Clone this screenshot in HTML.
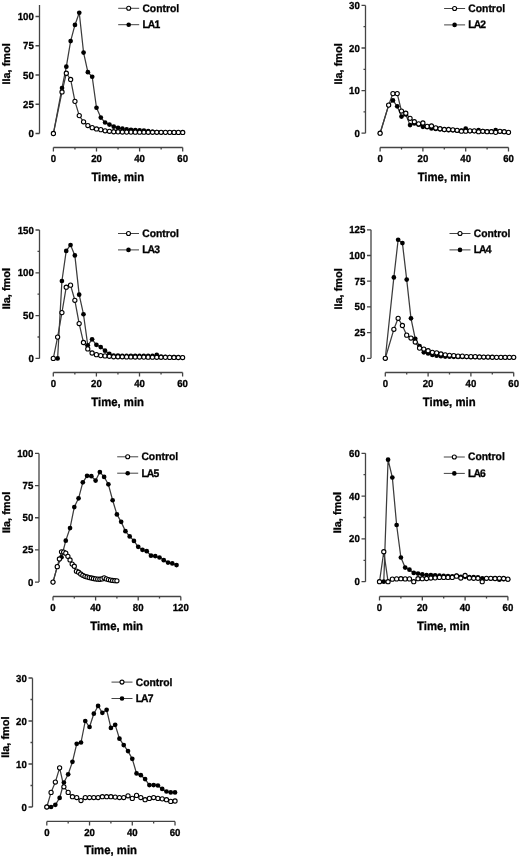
<!DOCTYPE html>
<html><head><meta charset="utf-8"><title>IIa generation curves</title>
<style>
html,body{margin:0;padding:0;background:#fff;}
body{width:520px;height:857px;overflow:hidden;}
svg{display:block;filter:grayscale(1) blur(0.3px);}
text{font-family:"Liberation Sans",sans-serif;font-weight:bold;fill:#000;stroke:#000;stroke-width:0.3px;text-rendering:geometricPrecision;}
.tk{font-size:9.65px;}
.lt{font-size:10.35px;}
.la{letter-spacing:-0.9px;}
.xl{font-size:11.35px;}
.yl{font-size:10.95px;}
.ax{fill:none;stroke:#444;stroke-width:1.3;}
.lg{fill:none;stroke:#444;stroke-width:1;}
.dl{fill:none;stroke:#3c3c3c;stroke-width:1.25;stroke-linejoin:round;}
.fc{fill:#000;stroke:none;}
.oc{fill:#fff;stroke:#000;stroke-width:1.1;}
</style></head>
<body><svg width="520" height="857" viewBox="0 0 520 857">
<g>
<path class="ax" d="M39.5 5V133.5M35.5 133.5H39.5M35.5 104.25H39.5M35.5 75H39.5M35.5 45.75H39.5M35.5 16.5H39.5M53.4 147.5H182.7M53.4 147.5V151.5M96.5 147.5V151.5M139.6 147.5V151.5M182.7 147.5V151.5M74.95 147.5V149.5M118.05 147.5V149.5M161.15 147.5V149.5"/>
<text class="tk" transform="translate(33.8 137) scale(1 1.06)" text-anchor="end">0</text>
<text class="tk" transform="translate(33.8 107.75) scale(1 1.06)" text-anchor="end">25</text>
<text class="tk" transform="translate(33.8 78.5) scale(1 1.06)" text-anchor="end">50</text>
<text class="tk" transform="translate(33.8 49.25) scale(1 1.06)" text-anchor="end">75</text>
<text class="tk" transform="translate(33.8 20) scale(1 1.06)" text-anchor="end">100</text>
<text class="tk" transform="translate(53.4 162.1) scale(1 1.06)" text-anchor="middle">0</text>
<text class="tk" transform="translate(96.5 162.1) scale(1 1.06)" text-anchor="middle">20</text>
<text class="tk" transform="translate(139.6 162.1) scale(1 1.06)" text-anchor="middle">40</text>
<text class="tk" transform="translate(182.7 162.1) scale(1 1.06)" text-anchor="middle">60</text>
<text class="xl" transform="translate(117.75 180.5) scale(1 1.06)" text-anchor="middle">Time, min</text>
<text class="yl" transform="translate(9.7 63.9) rotate(-90)" text-anchor="middle">IIa, fmol</text>
<polyline class="dl" points="53.4,133.5 62.02,87.99 66.33,66.69 70.64,41.07 74.95,24.92 79.26,12.76 83.57,52.54 87.88,72.19 92.19,76.75 96.5,107.76 100.81,117.59 105.12,122.5 109.43,124.61 113.74,126.71 118.05,127.88 122.36,128.7 126.67,129.41 130.98,129.76 135.29,129.99 139.6,130.34 143.91,130.69 148.22,131.16 152.53,131.75 156.84,132.1 161.15,132.33 165.46,132.33 169.77,132.45 174.08,132.45 178.39,132.45 182.7,132.56"/>
<polyline class="dl" points="53.4,133.5 62.02,91.97 66.33,73.25 70.64,79.45 74.95,101.33 79.26,115.6 83.57,121.8 87.88,125.54 92.19,127.65 96.5,128.94 100.81,129.64 105.12,130.81 109.43,131.28 113.74,131.75 118.05,131.86 122.36,131.98 126.67,132.1 130.98,132.12 135.29,132.15 139.6,132.18 143.91,132.2 148.22,132.23 152.53,132.26 156.84,132.28 161.15,132.31 165.46,132.34 169.77,132.37 174.08,132.39 178.39,132.42 182.7,132.45"/>
<circle class="fc" cx="53.4" cy="133.5" r="2.35"/>
<circle class="fc" cx="62.02" cy="87.99" r="2.35"/>
<circle class="fc" cx="66.33" cy="66.69" r="2.35"/>
<circle class="fc" cx="70.64" cy="41.07" r="2.35"/>
<circle class="fc" cx="74.95" cy="24.92" r="2.35"/>
<circle class="fc" cx="79.26" cy="12.76" r="2.35"/>
<circle class="fc" cx="83.57" cy="52.54" r="2.35"/>
<circle class="fc" cx="87.88" cy="72.19" r="2.35"/>
<circle class="fc" cx="92.19" cy="76.75" r="2.35"/>
<circle class="fc" cx="96.5" cy="107.76" r="2.35"/>
<circle class="fc" cx="100.81" cy="117.59" r="2.35"/>
<circle class="fc" cx="105.12" cy="122.5" r="2.35"/>
<circle class="fc" cx="109.43" cy="124.61" r="2.35"/>
<circle class="fc" cx="113.74" cy="126.71" r="2.35"/>
<circle class="fc" cx="118.05" cy="127.88" r="2.35"/>
<circle class="fc" cx="122.36" cy="128.7" r="2.35"/>
<circle class="fc" cx="126.67" cy="129.41" r="2.35"/>
<circle class="fc" cx="130.98" cy="129.76" r="2.35"/>
<circle class="fc" cx="135.29" cy="129.99" r="2.35"/>
<circle class="fc" cx="139.6" cy="130.34" r="2.35"/>
<circle class="fc" cx="143.91" cy="130.69" r="2.35"/>
<circle class="fc" cx="148.22" cy="131.16" r="2.35"/>
<circle class="fc" cx="152.53" cy="131.75" r="2.35"/>
<circle class="fc" cx="156.84" cy="132.1" r="2.35"/>
<circle class="fc" cx="161.15" cy="132.33" r="2.35"/>
<circle class="fc" cx="165.46" cy="132.33" r="2.35"/>
<circle class="fc" cx="169.77" cy="132.45" r="2.35"/>
<circle class="fc" cx="174.08" cy="132.45" r="2.35"/>
<circle class="fc" cx="178.39" cy="132.45" r="2.35"/>
<circle class="fc" cx="182.7" cy="132.56" r="2.35"/>
<circle class="oc" cx="53.4" cy="133.5" r="2.1"/>
<circle class="oc" cx="62.02" cy="91.97" r="2.1"/>
<circle class="oc" cx="66.33" cy="73.25" r="2.1"/>
<circle class="oc" cx="70.64" cy="79.45" r="2.1"/>
<circle class="oc" cx="74.95" cy="101.33" r="2.1"/>
<circle class="oc" cx="79.26" cy="115.6" r="2.1"/>
<circle class="oc" cx="83.57" cy="121.8" r="2.1"/>
<circle class="oc" cx="87.88" cy="125.54" r="2.1"/>
<circle class="oc" cx="92.19" cy="127.65" r="2.1"/>
<circle class="oc" cx="96.5" cy="128.94" r="2.1"/>
<circle class="oc" cx="100.81" cy="129.64" r="2.1"/>
<circle class="oc" cx="105.12" cy="130.81" r="2.1"/>
<circle class="oc" cx="109.43" cy="131.28" r="2.1"/>
<circle class="oc" cx="113.74" cy="131.75" r="2.1"/>
<circle class="oc" cx="118.05" cy="131.86" r="2.1"/>
<circle class="oc" cx="122.36" cy="131.98" r="2.1"/>
<circle class="oc" cx="126.67" cy="132.1" r="2.1"/>
<circle class="oc" cx="130.98" cy="132.12" r="2.1"/>
<circle class="oc" cx="135.29" cy="132.15" r="2.1"/>
<circle class="oc" cx="139.6" cy="132.18" r="2.1"/>
<circle class="oc" cx="143.91" cy="132.2" r="2.1"/>
<circle class="oc" cx="148.22" cy="132.23" r="2.1"/>
<circle class="oc" cx="152.53" cy="132.26" r="2.1"/>
<circle class="oc" cx="156.84" cy="132.28" r="2.1"/>
<circle class="oc" cx="161.15" cy="132.31" r="2.1"/>
<circle class="oc" cx="165.46" cy="132.34" r="2.1"/>
<circle class="oc" cx="169.77" cy="132.37" r="2.1"/>
<circle class="oc" cx="174.08" cy="132.39" r="2.1"/>
<circle class="oc" cx="178.39" cy="132.42" r="2.1"/>
<circle class="oc" cx="182.7" cy="132.45" r="2.1"/>
<path class="lg" d="M118.2 8.3H139.2"/>
<circle class="oc" cx="128.7" cy="8.3" r="2"/>
<text class="lt" transform="translate(142.4 11.7) scale(1 1.05)">Control</text>
<path class="lg" d="M118.2 24.7H139.2"/>
<circle class="fc" cx="128.7" cy="24.7" r="2.3"/>
<text class="lt la" transform="translate(142.4 28.1) scale(1 1.05)">LA1</text>
</g>
<g>
<path class="ax" d="M365.5 5.4V133.2M361.5 133.2H365.5M361.5 90.6H365.5M361.5 48H365.5M361.5 5.4H365.5M363.5 111.9H365.5M363.5 69.3H365.5M363.5 26.7H365.5M380.1 147.5H508.5M380.1 147.5V151.5M422.9 147.5V151.5M465.7 147.5V151.5M508.5 147.5V151.5M401.5 147.5V149.5M444.3 147.5V149.5M487.1 147.5V149.5"/>
<text class="tk" transform="translate(359.8 136.7) scale(1 1.06)" text-anchor="end">0</text>
<text class="tk" transform="translate(359.8 94.1) scale(1 1.06)" text-anchor="end">10</text>
<text class="tk" transform="translate(359.8 51.5) scale(1 1.06)" text-anchor="end">20</text>
<text class="tk" transform="translate(359.8 8.9) scale(1 1.06)" text-anchor="end">30</text>
<text class="tk" transform="translate(380.1 162.1) scale(1 1.06)" text-anchor="middle">0</text>
<text class="tk" transform="translate(422.9 162.1) scale(1 1.06)" text-anchor="middle">20</text>
<text class="tk" transform="translate(465.7 162.1) scale(1 1.06)" text-anchor="middle">40</text>
<text class="tk" transform="translate(508.5 162.1) scale(1 1.06)" text-anchor="middle">60</text>
<text class="xl" transform="translate(444 180.5) scale(1 1.06)" text-anchor="middle">Time, min</text>
<text class="yl" transform="translate(341.8 63.9) rotate(-90)" text-anchor="middle">IIa, fmol</text>
<polyline class="dl" points="380.1,133.2 388.66,105.08 392.94,100.4 397.22,106.36 401.5,116.59 405.78,114.46 410.06,125.11 414.34,123.4 418.62,124.68 422.9,126.81 427.18,127.24 431.46,128.51 435.74,128.94 440.02,129.37 444.3,129.79 448.58,130.22 452.86,130.22 457.14,130.64 461.42,130.64 465.7,128.51 469.98,131.07 474.26,131.07 478.54,130.22 482.82,131.07 487.1,131.5 491.38,131.5 495.66,130.22 499.94,131.5 504.22,131.92 508.5,132.35"/>
<polyline class="dl" points="380.1,133.2 388.66,105.08 392.94,93.58 397.22,93.58 401.5,111.05 405.78,113.18 410.06,118.29 414.34,121.7 418.62,123.83 422.9,122.98 427.18,126.38 431.46,125.96 435.74,127.92 440.02,128.68 444.3,129.49 448.58,129.49 452.86,129.79 457.14,130.3 461.42,131.2 465.7,131.2 469.98,130.86 474.26,130.86 478.54,131.71 482.82,131.28 487.1,131.71 491.38,131.71 495.66,132.35 499.94,131.28 504.22,131.71 508.5,132.35"/>
<circle class="fc" cx="380.1" cy="133.2" r="2.35"/>
<circle class="fc" cx="388.66" cy="105.08" r="2.35"/>
<circle class="fc" cx="392.94" cy="100.4" r="2.35"/>
<circle class="fc" cx="397.22" cy="106.36" r="2.35"/>
<circle class="fc" cx="401.5" cy="116.59" r="2.35"/>
<circle class="fc" cx="405.78" cy="114.46" r="2.35"/>
<circle class="fc" cx="410.06" cy="125.11" r="2.35"/>
<circle class="fc" cx="414.34" cy="123.4" r="2.35"/>
<circle class="fc" cx="418.62" cy="124.68" r="2.35"/>
<circle class="fc" cx="422.9" cy="126.81" r="2.35"/>
<circle class="fc" cx="427.18" cy="127.24" r="2.35"/>
<circle class="fc" cx="431.46" cy="128.51" r="2.35"/>
<circle class="fc" cx="435.74" cy="128.94" r="2.35"/>
<circle class="fc" cx="440.02" cy="129.37" r="2.35"/>
<circle class="fc" cx="444.3" cy="129.79" r="2.35"/>
<circle class="fc" cx="448.58" cy="130.22" r="2.35"/>
<circle class="fc" cx="452.86" cy="130.22" r="2.35"/>
<circle class="fc" cx="457.14" cy="130.64" r="2.35"/>
<circle class="fc" cx="461.42" cy="130.64" r="2.35"/>
<circle class="fc" cx="465.7" cy="128.51" r="2.35"/>
<circle class="fc" cx="469.98" cy="131.07" r="2.35"/>
<circle class="fc" cx="474.26" cy="131.07" r="2.35"/>
<circle class="fc" cx="478.54" cy="130.22" r="2.35"/>
<circle class="fc" cx="482.82" cy="131.07" r="2.35"/>
<circle class="fc" cx="487.1" cy="131.5" r="2.35"/>
<circle class="fc" cx="491.38" cy="131.5" r="2.35"/>
<circle class="fc" cx="495.66" cy="130.22" r="2.35"/>
<circle class="fc" cx="499.94" cy="131.5" r="2.35"/>
<circle class="fc" cx="504.22" cy="131.92" r="2.35"/>
<circle class="fc" cx="508.5" cy="132.35" r="2.35"/>
<circle class="oc" cx="380.1" cy="133.2" r="2.1"/>
<circle class="oc" cx="388.66" cy="105.08" r="2.1"/>
<circle class="oc" cx="392.94" cy="93.58" r="2.1"/>
<circle class="oc" cx="397.22" cy="93.58" r="2.1"/>
<circle class="oc" cx="401.5" cy="111.05" r="2.1"/>
<circle class="oc" cx="405.78" cy="113.18" r="2.1"/>
<circle class="oc" cx="410.06" cy="118.29" r="2.1"/>
<circle class="oc" cx="414.34" cy="121.7" r="2.1"/>
<circle class="oc" cx="418.62" cy="123.83" r="2.1"/>
<circle class="oc" cx="422.9" cy="122.98" r="2.1"/>
<circle class="oc" cx="427.18" cy="126.38" r="2.1"/>
<circle class="oc" cx="431.46" cy="125.96" r="2.1"/>
<circle class="oc" cx="435.74" cy="127.92" r="2.1"/>
<circle class="oc" cx="440.02" cy="128.68" r="2.1"/>
<circle class="oc" cx="444.3" cy="129.49" r="2.1"/>
<circle class="oc" cx="448.58" cy="129.49" r="2.1"/>
<circle class="oc" cx="452.86" cy="129.79" r="2.1"/>
<circle class="oc" cx="457.14" cy="130.3" r="2.1"/>
<circle class="oc" cx="461.42" cy="131.2" r="2.1"/>
<circle class="oc" cx="465.7" cy="131.2" r="2.1"/>
<circle class="oc" cx="469.98" cy="130.86" r="2.1"/>
<circle class="oc" cx="474.26" cy="130.86" r="2.1"/>
<circle class="oc" cx="478.54" cy="131.71" r="2.1"/>
<circle class="oc" cx="482.82" cy="131.28" r="2.1"/>
<circle class="oc" cx="487.1" cy="131.71" r="2.1"/>
<circle class="oc" cx="491.38" cy="131.71" r="2.1"/>
<circle class="oc" cx="495.66" cy="132.35" r="2.1"/>
<circle class="oc" cx="499.94" cy="131.28" r="2.1"/>
<circle class="oc" cx="504.22" cy="131.71" r="2.1"/>
<circle class="oc" cx="508.5" cy="132.35" r="2.1"/>
<path class="lg" d="M444.1 8.5H465.1"/>
<circle class="oc" cx="454.6" cy="8.5" r="2"/>
<text class="lt" transform="translate(468.3 11.9) scale(1 1.05)">Control</text>
<path class="lg" d="M444.1 24.9H465.1"/>
<circle class="fc" cx="454.6" cy="24.9" r="2.3"/>
<text class="lt la" transform="translate(468.3 28.3) scale(1 1.05)">LA2</text>
</g>
<g>
<path class="ax" d="M39.5 230V358.4M35.5 358.4H39.5M35.5 315.6H39.5M35.5 272.8H39.5M35.5 230H39.5M37.5 337H39.5M37.5 294.2H39.5M37.5 251.4H39.5M53.3 372.5H182.6M53.3 372.5V376.5M96.4 372.5V376.5M139.5 372.5V376.5M182.6 372.5V376.5M74.85 372.5V374.5M117.95 372.5V374.5M161.05 372.5V374.5"/>
<text class="tk" transform="translate(33.8 361.9) scale(1 1.06)" text-anchor="end">0</text>
<text class="tk" transform="translate(33.8 319.1) scale(1 1.06)" text-anchor="end">50</text>
<text class="tk" transform="translate(33.8 276.3) scale(1 1.06)" text-anchor="end">100</text>
<text class="tk" transform="translate(33.8 233.5) scale(1 1.06)" text-anchor="end">150</text>
<text class="tk" transform="translate(53.3 387.1) scale(1 1.06)" text-anchor="middle">0</text>
<text class="tk" transform="translate(96.4 387.1) scale(1 1.06)" text-anchor="middle">20</text>
<text class="tk" transform="translate(139.5 387.1) scale(1 1.06)" text-anchor="middle">40</text>
<text class="tk" transform="translate(182.6 387.1) scale(1 1.06)" text-anchor="middle">60</text>
<text class="xl" transform="translate(117.65 405.5) scale(1 1.06)" text-anchor="middle">Time, min</text>
<text class="yl" transform="translate(9.5 288.7) rotate(-90)" text-anchor="middle">IIa, fmol</text>
<polyline class="dl" points="57.61,358.4 61.92,281.02 66.23,250.89 70.54,244.98 74.85,255.42 79.16,294.63 83.47,314.23 87.78,345.3 92.09,339.31 96.4,344.79 100.71,347.1 105.02,350.7 109.33,353.78 113.64,355.58 117.95,355.66 122.26,355.75 126.57,355.75 130.88,355.83 135.19,355.83 139.5,355.83 143.81,355.92 148.12,355.92 152.43,355.92 156.74,354.89 161.05,356.52 165.36,356.86 169.67,357.03 173.98,357.2 178.29,357.37 182.6,357.54"/>
<polyline class="dl" points="53.3,358.4 57.61,337.09 61.92,312.6 66.23,287.18 70.54,285.13 74.85,300.28 79.16,323.56 83.47,342.48 87.78,348.9 92.09,353.01 96.4,354.63 100.71,355.58 105.02,355.92 109.33,356.26 113.64,356.77 117.95,356.77 122.26,356.82 126.57,356.88 130.88,356.93 135.19,356.98 139.5,357.03 143.81,357.08 148.12,357.13 152.43,357.18 156.74,357.24 161.05,357.29 165.36,357.34 169.67,357.39 173.98,357.44 178.29,357.49 182.6,357.54"/>
<circle class="fc" cx="57.61" cy="358.4" r="2.35"/>
<circle class="fc" cx="61.92" cy="281.02" r="2.35"/>
<circle class="fc" cx="66.23" cy="250.89" r="2.35"/>
<circle class="fc" cx="70.54" cy="244.98" r="2.35"/>
<circle class="fc" cx="74.85" cy="255.42" r="2.35"/>
<circle class="fc" cx="79.16" cy="294.63" r="2.35"/>
<circle class="fc" cx="83.47" cy="314.23" r="2.35"/>
<circle class="fc" cx="87.78" cy="345.3" r="2.35"/>
<circle class="fc" cx="92.09" cy="339.31" r="2.35"/>
<circle class="fc" cx="96.4" cy="344.79" r="2.35"/>
<circle class="fc" cx="100.71" cy="347.1" r="2.35"/>
<circle class="fc" cx="105.02" cy="350.7" r="2.35"/>
<circle class="fc" cx="109.33" cy="353.78" r="2.35"/>
<circle class="fc" cx="113.64" cy="355.58" r="2.35"/>
<circle class="fc" cx="117.95" cy="355.66" r="2.35"/>
<circle class="fc" cx="122.26" cy="355.75" r="2.35"/>
<circle class="fc" cx="126.57" cy="355.75" r="2.35"/>
<circle class="fc" cx="130.88" cy="355.83" r="2.35"/>
<circle class="fc" cx="135.19" cy="355.83" r="2.35"/>
<circle class="fc" cx="139.5" cy="355.83" r="2.35"/>
<circle class="fc" cx="143.81" cy="355.92" r="2.35"/>
<circle class="fc" cx="148.12" cy="355.92" r="2.35"/>
<circle class="fc" cx="152.43" cy="355.92" r="2.35"/>
<circle class="fc" cx="156.74" cy="354.89" r="2.35"/>
<circle class="fc" cx="161.05" cy="356.52" r="2.35"/>
<circle class="fc" cx="165.36" cy="356.86" r="2.35"/>
<circle class="fc" cx="169.67" cy="357.03" r="2.35"/>
<circle class="fc" cx="173.98" cy="357.2" r="2.35"/>
<circle class="fc" cx="178.29" cy="357.37" r="2.35"/>
<circle class="fc" cx="182.6" cy="357.54" r="2.35"/>
<circle class="oc" cx="53.3" cy="358.4" r="2.1"/>
<circle class="oc" cx="57.61" cy="337.09" r="2.1"/>
<circle class="oc" cx="61.92" cy="312.6" r="2.1"/>
<circle class="oc" cx="66.23" cy="287.18" r="2.1"/>
<circle class="oc" cx="70.54" cy="285.13" r="2.1"/>
<circle class="oc" cx="74.85" cy="300.28" r="2.1"/>
<circle class="oc" cx="79.16" cy="323.56" r="2.1"/>
<circle class="oc" cx="83.47" cy="342.48" r="2.1"/>
<circle class="oc" cx="87.78" cy="348.9" r="2.1"/>
<circle class="oc" cx="92.09" cy="353.01" r="2.1"/>
<circle class="oc" cx="96.4" cy="354.63" r="2.1"/>
<circle class="oc" cx="100.71" cy="355.58" r="2.1"/>
<circle class="oc" cx="105.02" cy="355.92" r="2.1"/>
<circle class="oc" cx="109.33" cy="356.26" r="2.1"/>
<circle class="oc" cx="113.64" cy="356.77" r="2.1"/>
<circle class="oc" cx="117.95" cy="356.77" r="2.1"/>
<circle class="oc" cx="122.26" cy="356.82" r="2.1"/>
<circle class="oc" cx="126.57" cy="356.88" r="2.1"/>
<circle class="oc" cx="130.88" cy="356.93" r="2.1"/>
<circle class="oc" cx="135.19" cy="356.98" r="2.1"/>
<circle class="oc" cx="139.5" cy="357.03" r="2.1"/>
<circle class="oc" cx="143.81" cy="357.08" r="2.1"/>
<circle class="oc" cx="148.12" cy="357.13" r="2.1"/>
<circle class="oc" cx="152.43" cy="357.18" r="2.1"/>
<circle class="oc" cx="156.74" cy="357.24" r="2.1"/>
<circle class="oc" cx="161.05" cy="357.29" r="2.1"/>
<circle class="oc" cx="165.36" cy="357.34" r="2.1"/>
<circle class="oc" cx="169.67" cy="357.39" r="2.1"/>
<circle class="oc" cx="173.98" cy="357.44" r="2.1"/>
<circle class="oc" cx="178.29" cy="357.49" r="2.1"/>
<circle class="oc" cx="182.6" cy="357.54" r="2.1"/>
<path class="lg" d="M118 233.5H139"/>
<circle class="oc" cx="128.5" cy="233.5" r="2"/>
<text class="lt" transform="translate(142.2 236.9) scale(1 1.05)">Control</text>
<path class="lg" d="M118 249.9H139"/>
<circle class="fc" cx="128.5" cy="249.9" r="2.3"/>
<text class="lt la" transform="translate(142.2 253.3) scale(1 1.05)">LA3</text>
</g>
<g>
<path class="ax" d="M371 229.8V358.3M367 358.3H371M367 332.6H371M367 306.9H371M367 281.2H371M367 255.5H371M367 229.8H371M385.3 372.5H513.7M385.3 372.5V376.5M428.1 372.5V376.5M470.9 372.5V376.5M513.7 372.5V376.5M406.7 372.5V374.5M449.5 372.5V374.5M492.3 372.5V374.5"/>
<text class="tk" transform="translate(365.3 361.8) scale(1 1.06)" text-anchor="end">0</text>
<text class="tk" transform="translate(365.3 336.1) scale(1 1.06)" text-anchor="end">25</text>
<text class="tk" transform="translate(365.3 310.4) scale(1 1.06)" text-anchor="end">50</text>
<text class="tk" transform="translate(365.3 284.7) scale(1 1.06)" text-anchor="end">75</text>
<text class="tk" transform="translate(365.3 259) scale(1 1.06)" text-anchor="end">100</text>
<text class="tk" transform="translate(365.3 233.3) scale(1 1.06)" text-anchor="end">125</text>
<text class="tk" transform="translate(385.3 387.1) scale(1 1.06)" text-anchor="middle">0</text>
<text class="tk" transform="translate(428.1 387.1) scale(1 1.06)" text-anchor="middle">20</text>
<text class="tk" transform="translate(470.9 387.1) scale(1 1.06)" text-anchor="middle">40</text>
<text class="tk" transform="translate(513.7 387.1) scale(1 1.06)" text-anchor="middle">60</text>
<text class="xl" transform="translate(449.2 405.5) scale(1 1.06)" text-anchor="middle">Time, min</text>
<text class="yl" transform="translate(342.4 288.9) rotate(-90)" text-anchor="middle">IIa, fmol</text>
<polyline class="dl" points="385.3,358.3 393.86,277.4 398.14,239.77 402.42,243.06 406.7,279.56 410.98,318.31 415.26,338.77 419.54,346.07 423.82,352.34 428.1,353.47 432.38,355.01 436.66,355.73 440.94,356.24 445.22,356.55 449.5,356.76 453.78,356.86 458.06,356.9 462.34,356.95 466.62,356.99 470.9,357.04 475.18,357.08 479.46,357.13 483.74,357.17 488.02,357.21 492.3,357.26 496.58,357.3 500.86,357.35 505.14,357.39 509.42,357.43 513.7,357.48"/>
<polyline class="dl" points="385.3,358.3 393.86,329.31 398.14,318.31 402.42,325.51 406.7,335.17 410.98,338.05 415.26,342.06 419.54,348.12 423.82,349.05 428.1,350.69 432.38,352.34 436.66,352.85 440.94,353.98 445.22,354.8 449.5,355.32 453.78,355.63 458.06,356.14 462.34,356.14 466.62,356.55 470.9,356.66 475.18,356.66 479.46,356.96 483.74,357.07 488.02,357.07 492.3,357.27 496.58,357.37 500.86,357.37 505.14,357.37 509.42,357.37 513.7,357.37"/>
<circle class="fc" cx="385.3" cy="358.3" r="2.35"/>
<circle class="fc" cx="393.86" cy="277.4" r="2.35"/>
<circle class="fc" cx="398.14" cy="239.77" r="2.35"/>
<circle class="fc" cx="402.42" cy="243.06" r="2.35"/>
<circle class="fc" cx="406.7" cy="279.56" r="2.35"/>
<circle class="fc" cx="410.98" cy="318.31" r="2.35"/>
<circle class="fc" cx="415.26" cy="338.77" r="2.35"/>
<circle class="fc" cx="419.54" cy="346.07" r="2.35"/>
<circle class="fc" cx="423.82" cy="352.34" r="2.35"/>
<circle class="fc" cx="428.1" cy="353.47" r="2.35"/>
<circle class="fc" cx="432.38" cy="355.01" r="2.35"/>
<circle class="fc" cx="436.66" cy="355.73" r="2.35"/>
<circle class="fc" cx="440.94" cy="356.24" r="2.35"/>
<circle class="fc" cx="445.22" cy="356.55" r="2.35"/>
<circle class="fc" cx="449.5" cy="356.76" r="2.35"/>
<circle class="fc" cx="453.78" cy="356.86" r="2.35"/>
<circle class="fc" cx="458.06" cy="356.9" r="2.35"/>
<circle class="fc" cx="462.34" cy="356.95" r="2.35"/>
<circle class="fc" cx="466.62" cy="356.99" r="2.35"/>
<circle class="fc" cx="470.9" cy="357.04" r="2.35"/>
<circle class="fc" cx="475.18" cy="357.08" r="2.35"/>
<circle class="fc" cx="479.46" cy="357.13" r="2.35"/>
<circle class="fc" cx="483.74" cy="357.17" r="2.35"/>
<circle class="fc" cx="488.02" cy="357.21" r="2.35"/>
<circle class="fc" cx="492.3" cy="357.26" r="2.35"/>
<circle class="fc" cx="496.58" cy="357.3" r="2.35"/>
<circle class="fc" cx="500.86" cy="357.35" r="2.35"/>
<circle class="fc" cx="505.14" cy="357.39" r="2.35"/>
<circle class="fc" cx="509.42" cy="357.43" r="2.35"/>
<circle class="fc" cx="513.7" cy="357.48" r="2.35"/>
<circle class="oc" cx="385.3" cy="358.3" r="2.1"/>
<circle class="oc" cx="393.86" cy="329.31" r="2.1"/>
<circle class="oc" cx="398.14" cy="318.31" r="2.1"/>
<circle class="oc" cx="402.42" cy="325.51" r="2.1"/>
<circle class="oc" cx="406.7" cy="335.17" r="2.1"/>
<circle class="oc" cx="410.98" cy="338.05" r="2.1"/>
<circle class="oc" cx="415.26" cy="342.06" r="2.1"/>
<circle class="oc" cx="419.54" cy="348.12" r="2.1"/>
<circle class="oc" cx="423.82" cy="349.05" r="2.1"/>
<circle class="oc" cx="428.1" cy="350.69" r="2.1"/>
<circle class="oc" cx="432.38" cy="352.34" r="2.1"/>
<circle class="oc" cx="436.66" cy="352.85" r="2.1"/>
<circle class="oc" cx="440.94" cy="353.98" r="2.1"/>
<circle class="oc" cx="445.22" cy="354.8" r="2.1"/>
<circle class="oc" cx="449.5" cy="355.32" r="2.1"/>
<circle class="oc" cx="453.78" cy="355.63" r="2.1"/>
<circle class="oc" cx="458.06" cy="356.14" r="2.1"/>
<circle class="oc" cx="462.34" cy="356.14" r="2.1"/>
<circle class="oc" cx="466.62" cy="356.55" r="2.1"/>
<circle class="oc" cx="470.9" cy="356.66" r="2.1"/>
<circle class="oc" cx="475.18" cy="356.66" r="2.1"/>
<circle class="oc" cx="479.46" cy="356.96" r="2.1"/>
<circle class="oc" cx="483.74" cy="357.07" r="2.1"/>
<circle class="oc" cx="488.02" cy="357.07" r="2.1"/>
<circle class="oc" cx="492.3" cy="357.27" r="2.1"/>
<circle class="oc" cx="496.58" cy="357.37" r="2.1"/>
<circle class="oc" cx="500.86" cy="357.37" r="2.1"/>
<circle class="oc" cx="505.14" cy="357.37" r="2.1"/>
<circle class="oc" cx="509.42" cy="357.37" r="2.1"/>
<circle class="oc" cx="513.7" cy="357.37" r="2.1"/>
<path class="lg" d="M449.5 233.5H470.5"/>
<circle class="oc" cx="460" cy="233.5" r="2"/>
<text class="lt" transform="translate(473.7 236.9) scale(1 1.05)">Control</text>
<path class="lg" d="M449.5 249.9H470.5"/>
<circle class="fc" cx="460" cy="249.9" r="2.3"/>
<text class="lt la" transform="translate(473.7 253.3) scale(1 1.05)">LA4</text>
</g>
<g>
<path class="ax" d="M39 453.4V582.1M35 582.1H39M35 549.93H39M35 517.75H39M35 485.58H39M35 453.4H39M53 596.5H180.8M53 596.5V600.5M95.6 596.5V600.5M138.2 596.5V600.5M180.8 596.5V600.5M74.3 596.5V598.5M116.9 596.5V598.5M159.5 596.5V598.5"/>
<text class="tk" transform="translate(33.3 585.6) scale(1 1.06)" text-anchor="end">0</text>
<text class="tk" transform="translate(33.3 553.43) scale(1 1.06)" text-anchor="end">25</text>
<text class="tk" transform="translate(33.3 521.25) scale(1 1.06)" text-anchor="end">50</text>
<text class="tk" transform="translate(33.3 489.08) scale(1 1.06)" text-anchor="end">75</text>
<text class="tk" transform="translate(33.3 456.9) scale(1 1.06)" text-anchor="end">100</text>
<text class="tk" transform="translate(53 611.1) scale(1 1.06)" text-anchor="middle">0</text>
<text class="tk" transform="translate(95.6 611.1) scale(1 1.06)" text-anchor="middle">40</text>
<text class="tk" transform="translate(138.2 611.1) scale(1 1.06)" text-anchor="middle">80</text>
<text class="tk" transform="translate(180.8 611.1) scale(1 1.06)" text-anchor="middle">120</text>
<text class="xl" transform="translate(116.6 629.5) scale(1 1.06)" text-anchor="middle">Time, min</text>
<text class="yl" transform="translate(9.5 512.4) rotate(-90)" text-anchor="middle">IIa, fmol</text>
<polyline class="dl" points="53,582.1 57.26,566.66 61.52,557.26 65.78,540.66 70.04,528.05 74.3,507.07 78.56,498.32 82.82,482.36 87.08,475.79 91.34,476.18 95.6,480.56 99.86,472.06 104.12,476.95 108.38,484.29 112.64,500.25 116.9,514.4 121.16,521.87 125.42,531.13 129.68,536.41 133.94,540.92 138.2,546.84 142.46,549.8 146.72,551.21 150.98,555.72 155.24,556.1 159.5,557.52 163.76,560.22 168.02,562.54 172.28,563.44 176.54,565.11"/>
<polyline class="dl" points="53,582.1 57.26,566.66 59.39,558.93 61.52,551.86 63.65,552.11 65.78,553.14 67.91,556.36 70.04,559.96 72.17,564.08 74.3,566.27 76.43,571.16 78.56,572.19 80.69,573.99 82.82,575.28 84.95,576.31 87.08,576.95 89.21,577.6 91.34,577.98 93.47,578.5 95.6,578.88 97.73,579.14 99.86,579.27 101.99,578.88 104.12,577.85 106.25,578.88 108.38,579.53 110.51,580.04 112.64,580.43 114.77,580.68 116.9,580.81"/>
<circle class="fc" cx="53" cy="582.1" r="2.35"/>
<circle class="fc" cx="57.26" cy="566.66" r="2.35"/>
<circle class="fc" cx="61.52" cy="557.26" r="2.35"/>
<circle class="fc" cx="65.78" cy="540.66" r="2.35"/>
<circle class="fc" cx="70.04" cy="528.05" r="2.35"/>
<circle class="fc" cx="74.3" cy="507.07" r="2.35"/>
<circle class="fc" cx="78.56" cy="498.32" r="2.35"/>
<circle class="fc" cx="82.82" cy="482.36" r="2.35"/>
<circle class="fc" cx="87.08" cy="475.79" r="2.35"/>
<circle class="fc" cx="91.34" cy="476.18" r="2.35"/>
<circle class="fc" cx="95.6" cy="480.56" r="2.35"/>
<circle class="fc" cx="99.86" cy="472.06" r="2.35"/>
<circle class="fc" cx="104.12" cy="476.95" r="2.35"/>
<circle class="fc" cx="108.38" cy="484.29" r="2.35"/>
<circle class="fc" cx="112.64" cy="500.25" r="2.35"/>
<circle class="fc" cx="116.9" cy="514.4" r="2.35"/>
<circle class="fc" cx="121.16" cy="521.87" r="2.35"/>
<circle class="fc" cx="125.42" cy="531.13" r="2.35"/>
<circle class="fc" cx="129.68" cy="536.41" r="2.35"/>
<circle class="fc" cx="133.94" cy="540.92" r="2.35"/>
<circle class="fc" cx="138.2" cy="546.84" r="2.35"/>
<circle class="fc" cx="142.46" cy="549.8" r="2.35"/>
<circle class="fc" cx="146.72" cy="551.21" r="2.35"/>
<circle class="fc" cx="150.98" cy="555.72" r="2.35"/>
<circle class="fc" cx="155.24" cy="556.1" r="2.35"/>
<circle class="fc" cx="159.5" cy="557.52" r="2.35"/>
<circle class="fc" cx="163.76" cy="560.22" r="2.35"/>
<circle class="fc" cx="168.02" cy="562.54" r="2.35"/>
<circle class="fc" cx="172.28" cy="563.44" r="2.35"/>
<circle class="fc" cx="176.54" cy="565.11" r="2.35"/>
<circle class="oc" cx="53" cy="582.1" r="2.1"/>
<circle class="oc" cx="57.26" cy="566.66" r="2.1"/>
<circle class="oc" cx="59.39" cy="558.93" r="2.1"/>
<circle class="oc" cx="61.52" cy="551.86" r="2.1"/>
<circle class="oc" cx="63.65" cy="552.11" r="2.1"/>
<circle class="oc" cx="65.78" cy="553.14" r="2.1"/>
<circle class="oc" cx="67.91" cy="556.36" r="2.1"/>
<circle class="oc" cx="70.04" cy="559.96" r="2.1"/>
<circle class="oc" cx="72.17" cy="564.08" r="2.1"/>
<circle class="oc" cx="74.3" cy="566.27" r="2.1"/>
<circle class="oc" cx="76.43" cy="571.16" r="2.1"/>
<circle class="oc" cx="78.56" cy="572.19" r="2.1"/>
<circle class="oc" cx="80.69" cy="573.99" r="2.1"/>
<circle class="oc" cx="82.82" cy="575.28" r="2.1"/>
<circle class="oc" cx="84.95" cy="576.31" r="2.1"/>
<circle class="oc" cx="87.08" cy="576.95" r="2.1"/>
<circle class="oc" cx="89.21" cy="577.6" r="2.1"/>
<circle class="oc" cx="91.34" cy="577.98" r="2.1"/>
<circle class="oc" cx="93.47" cy="578.5" r="2.1"/>
<circle class="oc" cx="95.6" cy="578.88" r="2.1"/>
<circle class="oc" cx="97.73" cy="579.14" r="2.1"/>
<circle class="oc" cx="99.86" cy="579.27" r="2.1"/>
<circle class="oc" cx="101.99" cy="578.88" r="2.1"/>
<circle class="oc" cx="104.12" cy="577.85" r="2.1"/>
<circle class="oc" cx="106.25" cy="578.88" r="2.1"/>
<circle class="oc" cx="108.38" cy="579.53" r="2.1"/>
<circle class="oc" cx="110.51" cy="580.04" r="2.1"/>
<circle class="oc" cx="112.64" cy="580.43" r="2.1"/>
<circle class="oc" cx="114.77" cy="580.68" r="2.1"/>
<circle class="oc" cx="116.9" cy="580.81" r="2.1"/>
<path class="lg" d="M117.2 456.8H138.2"/>
<circle class="oc" cx="127.7" cy="456.8" r="2"/>
<text class="lt" transform="translate(141.4 460.2) scale(1 1.05)">Control</text>
<path class="lg" d="M117.2 473.2H138.2"/>
<circle class="fc" cx="127.7" cy="473.2" r="2.3"/>
<text class="lt la" transform="translate(141.4 476.6) scale(1 1.05)">LA5</text>
</g>
<g>
<path class="ax" d="M365.5 453.3V581.7M361.5 581.7H365.5M361.5 538.9H365.5M361.5 496.1H365.5M361.5 453.3H365.5M363.5 560.3H365.5M363.5 517.5H365.5M363.5 474.7H365.5M379.5 596.5H507.9M379.5 596.5V600.5M422.3 596.5V600.5M465.1 596.5V600.5M507.9 596.5V600.5M400.9 596.5V598.5M443.7 596.5V598.5M486.5 596.5V598.5"/>
<text class="tk" transform="translate(359.8 585.2) scale(1 1.06)" text-anchor="end">0</text>
<text class="tk" transform="translate(359.8 542.4) scale(1 1.06)" text-anchor="end">20</text>
<text class="tk" transform="translate(359.8 499.6) scale(1 1.06)" text-anchor="end">40</text>
<text class="tk" transform="translate(359.8 456.8) scale(1 1.06)" text-anchor="end">60</text>
<text class="tk" transform="translate(379.5 611.1) scale(1 1.06)" text-anchor="middle">0</text>
<text class="tk" transform="translate(422.3 611.1) scale(1 1.06)" text-anchor="middle">20</text>
<text class="tk" transform="translate(465.1 611.1) scale(1 1.06)" text-anchor="middle">40</text>
<text class="tk" transform="translate(507.9 611.1) scale(1 1.06)" text-anchor="middle">60</text>
<text class="xl" transform="translate(443.4 629.5) scale(1 1.06)" text-anchor="middle">Time, min</text>
<text class="yl" transform="translate(341.2 512.7) rotate(-90)" text-anchor="middle">IIa, fmol</text>
<polyline class="dl" points="379.5,581.7 383.78,581.7 388.06,459.72 392.34,477.48 396.62,524.99 400.9,557.52 405.18,567.58 409.46,569.72 413.74,572.93 418.02,573.57 422.3,574.42 426.58,575.07 430.86,575.07 435.14,575.28 439.42,575.71 443.7,575.92 447.98,576.14 452.26,576.35 456.54,575.49 460.82,576.78 465.1,576.78 469.38,576.99 473.66,577.21 477.94,577.42 482.22,578.28 486.5,578.28 490.78,578.49 495.06,578.49 499.34,579.77 503.62,579.13 507.9,579.35"/>
<polyline class="dl" points="379.5,581.7 383.78,551.74 388.06,581.7 392.34,579.13 396.62,578.92 400.9,578.7 405.18,578.92 409.46,578.92 413.74,581.7 418.02,578.7 422.3,578.7 426.58,578.49 430.86,578.06 435.14,577.85 439.42,577.42 443.7,577.42 447.98,577.42 452.26,577.42 456.54,576.14 460.82,578.06 465.1,575.49 469.38,578.06 473.66,578.28 477.94,578.28 482.22,581.7 486.5,578.28 490.78,578.28 495.06,578.49 499.34,578.28 503.62,578.49 507.9,579.13"/>
<circle class="fc" cx="379.5" cy="581.7" r="2.35"/>
<circle class="fc" cx="383.78" cy="581.7" r="2.35"/>
<circle class="fc" cx="388.06" cy="459.72" r="2.35"/>
<circle class="fc" cx="392.34" cy="477.48" r="2.35"/>
<circle class="fc" cx="396.62" cy="524.99" r="2.35"/>
<circle class="fc" cx="400.9" cy="557.52" r="2.35"/>
<circle class="fc" cx="405.18" cy="567.58" r="2.35"/>
<circle class="fc" cx="409.46" cy="569.72" r="2.35"/>
<circle class="fc" cx="413.74" cy="572.93" r="2.35"/>
<circle class="fc" cx="418.02" cy="573.57" r="2.35"/>
<circle class="fc" cx="422.3" cy="574.42" r="2.35"/>
<circle class="fc" cx="426.58" cy="575.07" r="2.35"/>
<circle class="fc" cx="430.86" cy="575.07" r="2.35"/>
<circle class="fc" cx="435.14" cy="575.28" r="2.35"/>
<circle class="fc" cx="439.42" cy="575.71" r="2.35"/>
<circle class="fc" cx="443.7" cy="575.92" r="2.35"/>
<circle class="fc" cx="447.98" cy="576.14" r="2.35"/>
<circle class="fc" cx="452.26" cy="576.35" r="2.35"/>
<circle class="fc" cx="456.54" cy="575.49" r="2.35"/>
<circle class="fc" cx="460.82" cy="576.78" r="2.35"/>
<circle class="fc" cx="465.1" cy="576.78" r="2.35"/>
<circle class="fc" cx="469.38" cy="576.99" r="2.35"/>
<circle class="fc" cx="473.66" cy="577.21" r="2.35"/>
<circle class="fc" cx="477.94" cy="577.42" r="2.35"/>
<circle class="fc" cx="482.22" cy="578.28" r="2.35"/>
<circle class="fc" cx="486.5" cy="578.28" r="2.35"/>
<circle class="fc" cx="490.78" cy="578.49" r="2.35"/>
<circle class="fc" cx="495.06" cy="578.49" r="2.35"/>
<circle class="fc" cx="499.34" cy="579.77" r="2.35"/>
<circle class="fc" cx="503.62" cy="579.13" r="2.35"/>
<circle class="fc" cx="507.9" cy="579.35" r="2.35"/>
<circle class="oc" cx="379.5" cy="581.7" r="2.1"/>
<circle class="oc" cx="383.78" cy="551.74" r="2.1"/>
<circle class="oc" cx="388.06" cy="581.7" r="2.1"/>
<circle class="oc" cx="392.34" cy="579.13" r="2.1"/>
<circle class="oc" cx="396.62" cy="578.92" r="2.1"/>
<circle class="oc" cx="400.9" cy="578.7" r="2.1"/>
<circle class="oc" cx="405.18" cy="578.92" r="2.1"/>
<circle class="oc" cx="409.46" cy="578.92" r="2.1"/>
<circle class="oc" cx="413.74" cy="581.7" r="2.1"/>
<circle class="oc" cx="418.02" cy="578.7" r="2.1"/>
<circle class="oc" cx="422.3" cy="578.7" r="2.1"/>
<circle class="oc" cx="426.58" cy="578.49" r="2.1"/>
<circle class="oc" cx="430.86" cy="578.06" r="2.1"/>
<circle class="oc" cx="435.14" cy="577.85" r="2.1"/>
<circle class="oc" cx="439.42" cy="577.42" r="2.1"/>
<circle class="oc" cx="443.7" cy="577.42" r="2.1"/>
<circle class="oc" cx="447.98" cy="577.42" r="2.1"/>
<circle class="oc" cx="452.26" cy="577.42" r="2.1"/>
<circle class="oc" cx="456.54" cy="576.14" r="2.1"/>
<circle class="oc" cx="460.82" cy="578.06" r="2.1"/>
<circle class="oc" cx="465.1" cy="575.49" r="2.1"/>
<circle class="oc" cx="469.38" cy="578.06" r="2.1"/>
<circle class="oc" cx="473.66" cy="578.28" r="2.1"/>
<circle class="oc" cx="477.94" cy="578.28" r="2.1"/>
<circle class="oc" cx="482.22" cy="581.7" r="2.1"/>
<circle class="oc" cx="486.5" cy="578.28" r="2.1"/>
<circle class="oc" cx="490.78" cy="578.28" r="2.1"/>
<circle class="oc" cx="495.06" cy="578.49" r="2.1"/>
<circle class="oc" cx="499.34" cy="578.28" r="2.1"/>
<circle class="oc" cx="503.62" cy="578.49" r="2.1"/>
<circle class="oc" cx="507.9" cy="579.13" r="2.1"/>
<path class="lg" d="M443.8 457H464.8"/>
<circle class="oc" cx="454.3" cy="457" r="2"/>
<text class="lt" transform="translate(468 460.4) scale(1 1.05)">Control</text>
<path class="lg" d="M443.8 473.4H464.8"/>
<circle class="fc" cx="454.3" cy="473.4" r="2.3"/>
<text class="lt la" transform="translate(468 476.8) scale(1 1.05)">LA6</text>
</g>
<g>
<path class="ax" d="M32.5 678.3V807M28.5 807H32.5M28.5 764H32.5M28.5 721H32.5M28.5 678H32.5M30.5 785.5H32.5M30.5 742.5H32.5M30.5 699.5H32.5M46.8 821.4H175.02M46.8 821.4V825.4M89.54 821.4V825.4M132.28 821.4V825.4M175.02 821.4V825.4M68.17 821.4V823.4M110.91 821.4V823.4M153.65 821.4V823.4"/>
<text class="tk" transform="translate(26.8 810.5) scale(1 1.06)" text-anchor="end">0</text>
<text class="tk" transform="translate(26.8 767.5) scale(1 1.06)" text-anchor="end">10</text>
<text class="tk" transform="translate(26.8 724.5) scale(1 1.06)" text-anchor="end">20</text>
<text class="tk" transform="translate(26.8 681.5) scale(1 1.06)" text-anchor="end">30</text>
<text class="tk" transform="translate(46.8 836) scale(1 1.06)" text-anchor="middle">0</text>
<text class="tk" transform="translate(89.54 836) scale(1 1.06)" text-anchor="middle">20</text>
<text class="tk" transform="translate(132.28 836) scale(1 1.06)" text-anchor="middle">40</text>
<text class="tk" transform="translate(175.02 836) scale(1 1.06)" text-anchor="middle">60</text>
<text class="xl" transform="translate(110.61 854.4) scale(1 1.06)" text-anchor="middle">Time, min</text>
<text class="yl" transform="translate(8.8 737.2) rotate(-90)" text-anchor="middle">IIa, fmol</text>
<polyline class="dl" points="46.8,807 51.07,807 55.35,804.85 59.62,797.97 63.9,782.49 68.17,774.32 72.44,761.85 76.72,743.79 80.99,742.5 85.27,721 89.54,727.02 93.81,713.69 98.09,705.95 102.36,712.83 106.64,709.82 110.91,727.88 115.18,724.87 119.46,738.63 123.73,745.08 128.01,751.1 132.28,758.84 136.55,773.46 140.83,775.18 145.1,779.05 149.38,785.07 153.65,785.07 157.92,785.5 162.2,788.94 166.47,791.52 170.75,792.38 175.02,792.38"/>
<polyline class="dl" points="46.8,807 51.07,792.38 55.35,782.06 59.62,767.87 63.9,786.79 68.17,792.38 72.44,796.68 76.72,797.54 80.99,800.55 85.27,797.54 89.54,797.54 93.81,797.54 98.09,797.54 102.36,796.68 106.64,796.68 110.91,796.68 115.18,797.11 119.46,797.54 123.73,797.54 128.01,795.82 132.28,798.4 136.55,795.39 140.83,797.54 145.1,799.69 149.38,798.4 153.65,797.54 157.92,798.4 162.2,798.83 166.47,799.69 170.75,801.41 175.02,800.98"/>
<circle class="fc" cx="46.8" cy="807" r="2.35"/>
<circle class="fc" cx="51.07" cy="807" r="2.35"/>
<circle class="fc" cx="55.35" cy="804.85" r="2.35"/>
<circle class="fc" cx="59.62" cy="797.97" r="2.35"/>
<circle class="fc" cx="63.9" cy="782.49" r="2.35"/>
<circle class="fc" cx="68.17" cy="774.32" r="2.35"/>
<circle class="fc" cx="72.44" cy="761.85" r="2.35"/>
<circle class="fc" cx="76.72" cy="743.79" r="2.35"/>
<circle class="fc" cx="80.99" cy="742.5" r="2.35"/>
<circle class="fc" cx="85.27" cy="721" r="2.35"/>
<circle class="fc" cx="89.54" cy="727.02" r="2.35"/>
<circle class="fc" cx="93.81" cy="713.69" r="2.35"/>
<circle class="fc" cx="98.09" cy="705.95" r="2.35"/>
<circle class="fc" cx="102.36" cy="712.83" r="2.35"/>
<circle class="fc" cx="106.64" cy="709.82" r="2.35"/>
<circle class="fc" cx="110.91" cy="727.88" r="2.35"/>
<circle class="fc" cx="115.18" cy="724.87" r="2.35"/>
<circle class="fc" cx="119.46" cy="738.63" r="2.35"/>
<circle class="fc" cx="123.73" cy="745.08" r="2.35"/>
<circle class="fc" cx="128.01" cy="751.1" r="2.35"/>
<circle class="fc" cx="132.28" cy="758.84" r="2.35"/>
<circle class="fc" cx="136.55" cy="773.46" r="2.35"/>
<circle class="fc" cx="140.83" cy="775.18" r="2.35"/>
<circle class="fc" cx="145.1" cy="779.05" r="2.35"/>
<circle class="fc" cx="149.38" cy="785.07" r="2.35"/>
<circle class="fc" cx="153.65" cy="785.07" r="2.35"/>
<circle class="fc" cx="157.92" cy="785.5" r="2.35"/>
<circle class="fc" cx="162.2" cy="788.94" r="2.35"/>
<circle class="fc" cx="166.47" cy="791.52" r="2.35"/>
<circle class="fc" cx="170.75" cy="792.38" r="2.35"/>
<circle class="fc" cx="175.02" cy="792.38" r="2.35"/>
<circle class="oc" cx="46.8" cy="807" r="2.1"/>
<circle class="oc" cx="51.07" cy="792.38" r="2.1"/>
<circle class="oc" cx="55.35" cy="782.06" r="2.1"/>
<circle class="oc" cx="59.62" cy="767.87" r="2.1"/>
<circle class="oc" cx="63.9" cy="786.79" r="2.1"/>
<circle class="oc" cx="68.17" cy="792.38" r="2.1"/>
<circle class="oc" cx="72.44" cy="796.68" r="2.1"/>
<circle class="oc" cx="76.72" cy="797.54" r="2.1"/>
<circle class="oc" cx="80.99" cy="800.55" r="2.1"/>
<circle class="oc" cx="85.27" cy="797.54" r="2.1"/>
<circle class="oc" cx="89.54" cy="797.54" r="2.1"/>
<circle class="oc" cx="93.81" cy="797.54" r="2.1"/>
<circle class="oc" cx="98.09" cy="797.54" r="2.1"/>
<circle class="oc" cx="102.36" cy="796.68" r="2.1"/>
<circle class="oc" cx="106.64" cy="796.68" r="2.1"/>
<circle class="oc" cx="110.91" cy="796.68" r="2.1"/>
<circle class="oc" cx="115.18" cy="797.11" r="2.1"/>
<circle class="oc" cx="119.46" cy="797.54" r="2.1"/>
<circle class="oc" cx="123.73" cy="797.54" r="2.1"/>
<circle class="oc" cx="128.01" cy="795.82" r="2.1"/>
<circle class="oc" cx="132.28" cy="798.4" r="2.1"/>
<circle class="oc" cx="136.55" cy="795.39" r="2.1"/>
<circle class="oc" cx="140.83" cy="797.54" r="2.1"/>
<circle class="oc" cx="145.1" cy="799.69" r="2.1"/>
<circle class="oc" cx="149.38" cy="798.4" r="2.1"/>
<circle class="oc" cx="153.65" cy="797.54" r="2.1"/>
<circle class="oc" cx="157.92" cy="798.4" r="2.1"/>
<circle class="oc" cx="162.2" cy="798.83" r="2.1"/>
<circle class="oc" cx="166.47" cy="799.69" r="2.1"/>
<circle class="oc" cx="170.75" cy="801.41" r="2.1"/>
<circle class="oc" cx="175.02" cy="800.98" r="2.1"/>
<path class="lg" d="M111.5 682.1H132.5"/>
<circle class="oc" cx="122" cy="682.1" r="2"/>
<text class="lt" transform="translate(135.7 685.5) scale(1 1.05)">Control</text>
<path class="lg" d="M111.5 698.5H132.5"/>
<circle class="fc" cx="122" cy="698.5" r="2.3"/>
<text class="lt la" transform="translate(135.7 701.9) scale(1 1.05)">LA7</text>
</g>
</svg></body></html>
